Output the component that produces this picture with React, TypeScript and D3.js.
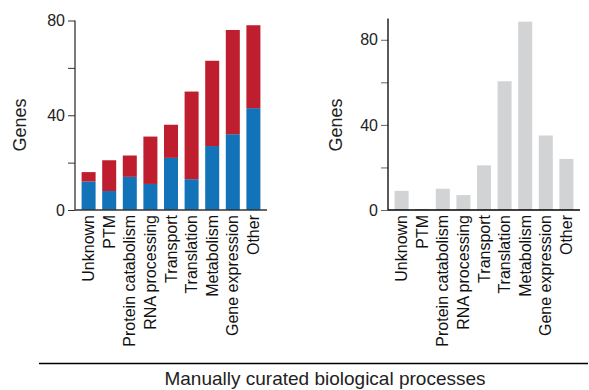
import React, { useEffect, useRef } from 'react';
import * as d3 from 'd3';

const categories = ['Unknown', 'PTM', 'Protein catabolism', 'RNA processing', 'Transport', 'Translation', 'Metabolism', 'Gene expression', 'Other'];
// left panel: blue part and total stacked height
const blueValues = [12, 8, 14, 11, 22, 13, 27, 32, 43];
const totalValues = [16, 21, 23, 31, 36, 50, 63, 76, 78];
// right panel
const greyValues = [9, 0.5, 10, 7, 21, 60.5, 88.5, 35, 24];
const tickValues = [0, 20, 40, 60, 80];
const tickLabels = [0, 40, 80];

const FONT = '"Liberation Sans", Arial, sans-serif';

const App = () => {
  const svgRef = useRef<SVGSVGElement>(null);

  useEffect(() => {
    const svg = d3.select(svgRef.current);
    svg.selectAll('*').remove();

    const baseY = 210;

    const drawPanel = (x0: number, yMax: number, yTop: number, axisColor: string, ylabelX: number) => {
      const g = svg.append('g');
      const x = d3.scaleBand<string>().domain(categories).range([x0, x0 + 192]).padding(0.32);
      const y = d3.scaleLinear().domain([0, yMax]).range([baseY, yTop]);

      const axis = d3.axisLeft(y)
        .tickValues(tickValues)
        .tickSize(7)
        .tickPadding(3)
        .tickFormat(d => (tickLabels.includes(+d) ? String(d) : ''));
      const ag = g.append('g').attr('transform', `translate(${x0},0)`).call(axis);
      ag.select('.domain').remove();
      ag.selectAll('line').attr('stroke', axisColor === '#000' ? '#666' : axisColor);
      ag.selectAll('text').attr('font-family', FONT).attr('font-size', 16).attr('fill', '#222');

      g.append('line')
        .attr('x1', x0).attr('x2', x0)
        .attr('y1', y(yMax)).attr('y2', baseY)
        .attr('stroke', axisColor).attr('stroke-width', 1.3);
      g.append('line')
        .attr('x1', x0).attr('x2', x0 + 192)
        .attr('y1', baseY).attr('y2', baseY)
        .attr('stroke', axisColor).attr('stroke-width', 1.3);

      g.append('text')
        .attr('transform', `translate(${ylabelX},125) rotate(-90)`)
        .attr('text-anchor', 'middle')
        .attr('font-family', FONT).attr('font-size', 18).attr('fill', '#222')
        .text('Genes');

      g.selectAll('.cat')
        .data(categories)
        .enter().append('text')
        .attr('transform', d => `translate(${(x(d) as number) + x.bandwidth() / 2},${baseY + 5}) rotate(-90)`)
        .attr('text-anchor', 'end')
        .attr('dy', '0.35em')
        .attr('font-family', FONT).attr('font-size', 16).attr('fill', '#111')
        .text(d => d);

      return { g, x, y };
    };

    const left = drawPanel(75, 80, 20.5, '#333', 26);
    left.g.selectAll('.red')
      .data(categories)
      .enter().insert('rect', ':first-child')
      .attr('x', d => left.x(d) as number)
      .attr('y', (_, i) => left.y(totalValues[i]))
      .attr('width', left.x.bandwidth())
      .attr('height', (_, i) => left.y(blueValues[i]) - left.y(totalValues[i]))
      .attr('fill', '#be1e2d');
    left.g.selectAll('.blue')
      .data(categories)
      .enter().insert('rect', ':first-child')
      .attr('x', d => left.x(d) as number)
      .attr('y', (_, i) => left.y(blueValues[i]))
      .attr('width', left.x.bandwidth())
      .attr('height', (_, i) => baseY - left.y(blueValues[i]))
      .attr('fill', '#1373b9');

    const right = drawPanel(388, 90, 18.5, '#000', 341.5);
    right.g.selectAll('.grey')
      .data(categories)
      .enter().insert('rect', ':first-child')
      .attr('x', d => right.x(d) as number)
      .attr('y', (_, i) => right.y(greyValues[i]))
      .attr('width', right.x.bandwidth())
      .attr('height', (_, i) => baseY - right.y(greyValues[i]))
      .attr('fill', '#d2d3d4');

    svg.append('line')
      .attr('x1', 39).attr('x2', 588)
      .attr('y1', 363.5).attr('y2', 363.5)
      .attr('stroke', '#000').attr('stroke-width', 1.5);
    svg.append('text')
      .attr('x', 325).attr('y', 385)
      .attr('text-anchor', 'middle')
      .attr('font-family', FONT).attr('font-size', 19).attr('fill', '#222')
      .text('Manually curated biological processes');
  }, []);

  return (
    <svg
      ref={svgRef}
      width={589}
      height={390}
      style={{ position: 'absolute', left: 0, top: 0, background: '#fff' }}
    ></svg>
  );
};

export default App;
